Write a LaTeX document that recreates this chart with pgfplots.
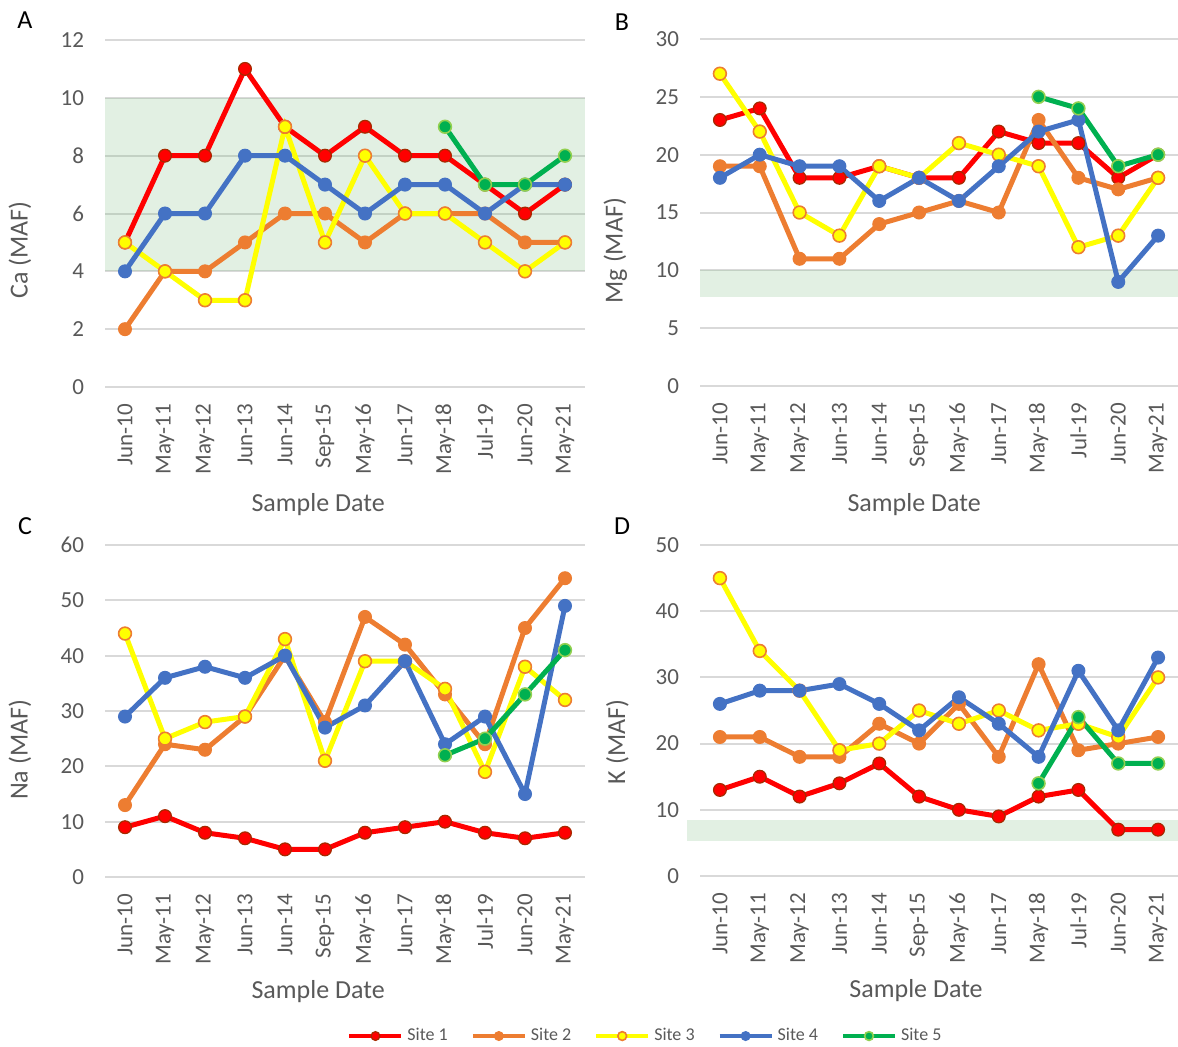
\documentclass[border=0pt]{standalone}
\usepackage{pgfplots}
\pgfplotsset{compat=1.18}
\usepackage{fontspec}
\setmainfont{Carlito}
\definecolor{cS1}{HTML}{FF0000}
\definecolor{cS1b}{HTML}{A52A00}
\definecolor{cS2}{HTML}{ED7D31}
\definecolor{cS3}{HTML}{FFFF00}
\definecolor{cS4}{HTML}{4472C4}
\definecolor{cS5}{HTML}{00B050}
\definecolor{cS5b}{HTML}{92D050}
\definecolor{gridgray}{HTML}{D9D9D9}
\definecolor{tickgray}{HTML}{595959}
\definecolor{bandfill}{HTML}{6EB473}
\pgfplotsset{
  panel/.style={
    scale only axis, width=240pt, xmin=-0.5, xmax=11.5, ymin=0,
    axis line style={draw=none}, major tick length=0pt,
    ymajorgrids, grid style={color=gridgray, line width=1pt},
    xtick={0,...,11},
    xticklabels={Jun-10,May-11,May-12,Jun-13,Jun-14,Sep-15,May-16,Jun-17,May-18,Jul-19,Jun-20,May-21},
    xticklabel style={rotate=90, anchor=east, font=\fontsize{11.5}{12}\selectfont, text=tickgray, xshift=-5pt},
    yticklabel style={font=\fontsize{11.5}{12}\selectfont, text=tickgray, xshift=-7pt},
    /pgf/number format/assume math mode=true,
    label style={font=\fontsize{13}{14}\selectfont, text=tickgray},
    clip=false,
  },
  s1/.style={color=cS1, line width=2.5pt, mark=*, mark size=3.2pt, mark options={fill=cS1, draw=cS1b, line width=0.6pt}},
  s2/.style={color=cS2, line width=2.5pt, mark=*, mark size=3.2pt, mark options={fill=cS2, draw=cS2, line width=0.6pt}},
  s3/.style={color=cS3, line width=2.5pt, mark=*, mark size=3.2pt, mark options={fill=cS3, draw=cS2, line width=0.8pt}},
  s4/.style={color=cS4, line width=2.5pt, mark=*, mark size=3.2pt, mark options={fill=cS4, draw=cS4, line width=0.6pt}},
  s5/.style={color=cS5, line width=2.5pt, mark=*, mark size=3.2pt, mark options={fill=cS5, draw=cS5b, line width=0.8pt}},
}
\begin{document}
\begin{tikzpicture}
\useasboundingbox (0,0) rectangle (589pt,-523pt);
\node[font=\fontsize{13}{14}\selectfont] at (12.5pt,-10pt) {A};
\node[font=\fontsize{13}{14}\selectfont] at (311pt,-11pt) {B};
\node[font=\fontsize{13}{14}\selectfont] at (12.5pt,-263pt) {C};
\node[font=\fontsize{13}{14}\selectfont] at (311pt,-263pt) {D};

% Panel A
\begin{axis}[panel, at={(52.5pt,-20pt)}, anchor=north west, height=173.5pt, ymax=12, ytick={0,2,...,12},
  xlabel={Sample Date}, xlabel style={at={(axis description cs:0.444,-0.34)}, anchor=center},
  ylabel={Ca (MAF)}, ylabel style={at={(axis description cs:-0.177,0.395)}, anchor=center}]
\fill[bandfill, fill opacity=0.2] (axis cs:-0.5,4) rectangle (axis cs:11.5,10);
\addplot[s1] coordinates {(0,5)(1,8)(2,8)(3,11)(4,9)(5,8)(6,9)(7,8)(8,8)(9,7)(10,6)(11,7)};
\addplot[s2] coordinates {(0,2)(1,4)(2,4)(3,5)(4,6)(5,6)(6,5)(7,6)(8,6)(9,6)(10,5)(11,5)};
\addplot[s3] coordinates {(0,5)(1,4)(2,3)(3,3)(4,9)(5,5)(6,8)(7,6)(8,6)(9,5)(10,4)(11,5)};
\addplot[s4] coordinates {(0,4)(1,6)(2,6)(3,8)(4,8)(5,7)(6,6)(7,7)(8,7)(9,6)(10,7)(11,7)};
\addplot[s5] coordinates {(8,9)(9,7)(10,7)(11,8)};
\end{axis}

% Panel B
\begin{axis}[panel, at={(350pt,-19.5pt)}, anchor=north west, width=239pt, height=173.5pt, ymax=30, ytick={0,5,...,30},
  xlabel={Sample Date}, xlabel style={at={(axis description cs:0.448,-0.342)}, anchor=center},
  ylabel={Mg (MAF)}, ylabel style={at={(axis description cs:-0.177,0.39)}, anchor=center}]
\fill[bandfill, fill opacity=0.2] (axis cs:-0.5,7.7) rectangle (axis cs:11.5,10);
\addplot[s1] coordinates {(0,23)(1,24)(2,18)(3,18)(4,19)(5,18)(6,18)(7,22)(8,21)(9,21)(10,18)(11,20)};
\addplot[s2] coordinates {(0,19)(1,19)(2,11)(3,11)(4,14)(5,15)(6,16)(7,15)(8,23)(9,18)(10,17)(11,18)};
\addplot[s3] coordinates {(0,27)(1,22)(2,15)(3,13)(4,19)(5,18)(6,21)(7,20)(8,19)(9,12)(10,13)(11,18)};
\addplot[s4] coordinates {(0,18)(1,20)(2,19)(3,19)(4,16)(5,18)(6,16)(7,19)(8,22)(9,23)(10,9)(11,13)};
\addplot[s5] coordinates {(8,25)(9,24)(10,19)(11,20)};
\end{axis}

% Panel C
\begin{axis}[panel, at={(52.5pt,-272.5pt)}, anchor=north west, height=166pt, ymax=60, ytick={0,10,...,60},
  xlabel={Sample Date}, xlabel style={at={(axis description cs:0.444,-0.346)}, anchor=center},
  ylabel={Na (MAF)}, ylabel style={at={(axis description cs:-0.177,0.383)}, anchor=center},
  legend style={at={(1.128,-0.479)}, anchor=center, legend columns=5, draw=none, fill=none,
    font=\fontsize{9}{10}\selectfont, text=tickgray, inner sep=0pt,
    /tikz/every even column/.append style={column sep=9.5pt}},
  legend cell align=left,
  legend image code/.code={\draw[mark repeat=2,mark phase=2, line width=2pt, mark size=2.2pt] plot coordinates {(0pt,0pt)(13pt,0pt)(26pt,0pt)};}]
\addplot[s1] coordinates {(0,9)(1,11)(2,8)(3,7)(4,5)(5,5)(6,8)(7,9)(8,10)(9,8)(10,7)(11,8)};
\addplot[s2] coordinates {(0,13)(1,24)(2,23)(3,29)(4,40)(5,28)(6,47)(7,42)(8,33)(9,24)(10,45)(11,54)};
\addplot[s3] coordinates {(0,44)(1,25)(2,28)(3,29)(4,43)(5,21)(6,39)(7,39)(8,34)(9,19)(10,38)(11,32)};
\addplot[s4] coordinates {(0,29)(1,36)(2,38)(3,36)(4,40)(5,27)(6,31)(7,39)(8,24)(9,29)(10,15)(11,49)};
\addplot[s5] coordinates {(8,22)(9,25)(10,33)(11,41)};
\legend{Site 1,Site 2,Site 3,Site 4,Site 5}
\end{axis}

% Panel D
\begin{axis}[panel, at={(350pt,-272.5pt)}, anchor=north west, width=239pt, height=165.5pt, ymax=50, ytick={0,10,...,50},
  xlabel={Sample Date}, xlabel style={at={(axis description cs:0.452,-0.347)}, anchor=center},
  ylabel={K (MAF)}, ylabel style={at={(axis description cs:-0.173,0.405)}, anchor=center}]
\fill[bandfill, fill opacity=0.2] (axis cs:-0.82,5.3) rectangle (axis cs:11.5,8.4);
\addplot[s1] coordinates {(0,13)(1,15)(2,12)(3,14)(4,17)(5,12)(6,10)(7,9)(8,12)(9,13)(10,7)(11,7)};
\addplot[s2] coordinates {(0,21)(1,21)(2,18)(3,18)(4,23)(5,20)(6,26)(7,18)(8,32)(9,19)(10,20)(11,21)};
\addplot[s3] coordinates {(0,45)(1,34)(2,28)(3,19)(4,20)(5,25)(6,23)(7,25)(8,22)(9,23)(10,21)(11,30)};
\addplot[s4] coordinates {(0,26)(1,28)(2,28)(3,29)(4,26)(5,22)(6,27)(7,23)(8,18)(9,31)(10,22)(11,33)};
\addplot[s5] coordinates {(8,14)(9,24)(10,17)(11,17)};
\end{axis}
\end{tikzpicture}
\end{document}
